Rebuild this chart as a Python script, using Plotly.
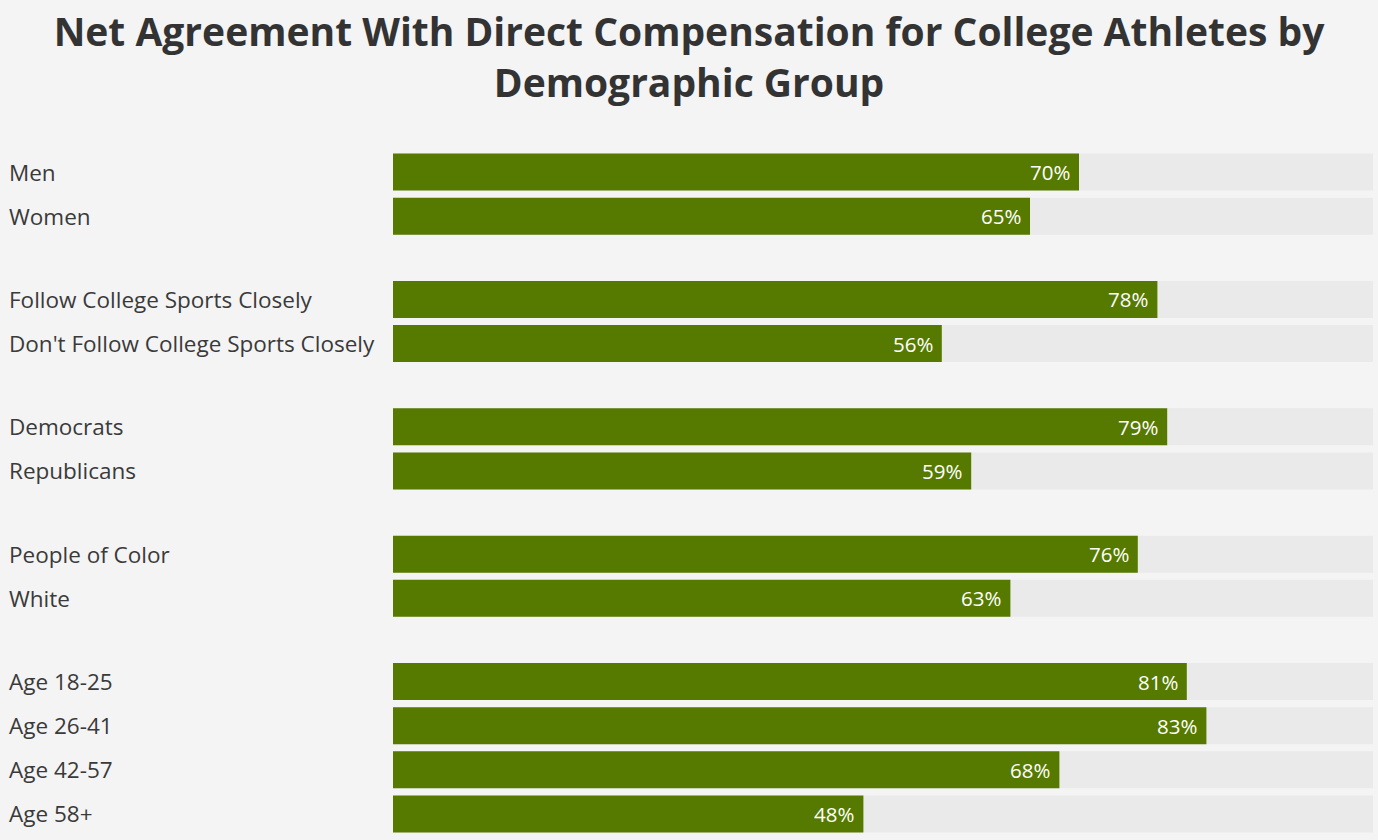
import plotly.graph_objects as go

groups = [
    ["Men", "Women"],
    ["Follow College Sports Closely", "Don't Follow College Sports Closely"],
    ["Democrats", "Republicans"],
    ["People of Color", "White"],
    ["Age 18-25", "Age 26-41", "Age 42-57", "Age 58+"],
]
values = [
    [70, 65],
    [78, 56],
    [79, 59],
    [76, 63],
    [81, 83, 68, 48],
]
scale_max = 100
title = "Net Agreement With Direct Compensation for College Athletes by<br>Demographic Group"

GROUP_GAP = 0.886
labels, vals, pos = [], [], []
i = 0
for g, (labs, vs) in enumerate(zip(groups, values)):
    for lab, v in zip(labs, vs):
        labels.append(lab)
        vals.append(v)
        pos.append(i + g * GROUP_GAP)
        i += 1

FONT = "Open Sans"
BAR = "#567a00"
TRACK = "#eaeaea"
BG = "#f4f4f4"

fig = go.Figure()
fig.add_trace(go.Bar(x=[scale_max] * len(vals), y=pos, orientation="h",
                     marker=dict(color=TRACK, line=dict(width=0)), width=0.84,
                     hoverinfo="skip", showlegend=False))
fig.add_trace(go.Bar(x=vals, y=pos, orientation="h",
                     marker=dict(color=BAR, line=dict(width=0)), width=0.84,
                     showlegend=False))

annotations = []
for lab, v, p in zip(labels, vals, pos):
    annotations.append(dict(x=0, y=p, xref="paper", yref="y", text=lab, showarrow=False,
                            xanchor="left", xshift=-386,
                            font=dict(family=FONT, size=22.5, color="#3a3a3a")))
    annotations.append(dict(x=v, y=p, xref="x", yref="y", text=f"{v}%", showarrow=False,
                            xanchor="right", xshift=-7,
                            font=dict(family=FONT, size=20.5, color="white")))

fig.update_layout(
    width=1378, height=840,
    paper_bgcolor=BG, plot_bgcolor=BG,
    barmode="overlay",
    margin=dict(l=393, r=5, t=150, b=4),
    title=dict(text=title, x=0.5, xanchor="center", yref="container", y=0.945, yanchor="middle",
               font=dict(family=FONT, size=39, color="#333333", weight="bold")),
    xaxis=dict(range=[0, scale_max], visible=False, fixedrange=True),
    yaxis=dict(range=[pos[-1] + 0.5, -0.5], visible=False, fixedrange=True),
    annotations=annotations,
)

fig.write_html("out.html")
